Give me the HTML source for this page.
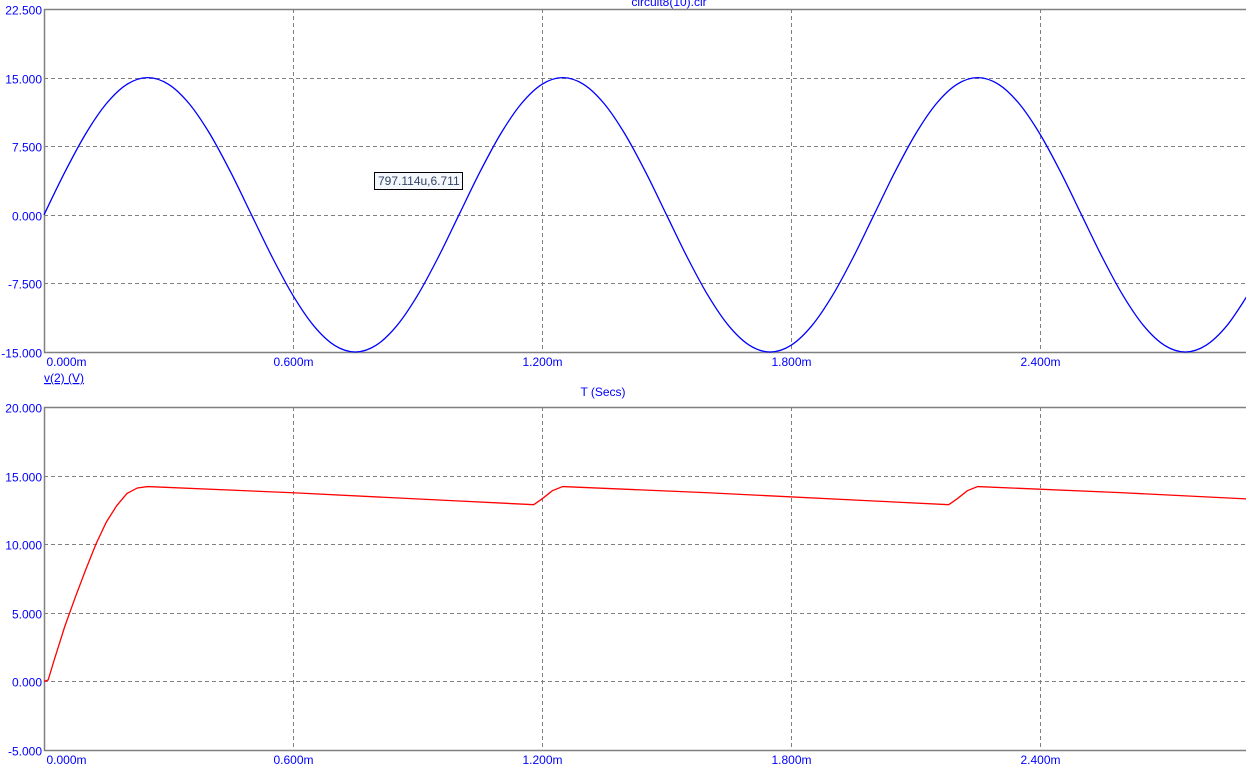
<!DOCTYPE html>
<html><head><meta charset="utf-8"><style>
body{margin:0;background:#fff;width:1246px;height:768px;overflow:hidden}
svg{display:block;font-family:"Liberation Sans",sans-serif}
</style></head><body>
<svg id="c" width="1246" height="768">
<text x="669" y="6" font-size="12" fill="#0000ff" text-anchor="middle">circuit8(10).cir</text>
<text x="44" y="382" font-size="12" fill="#0000ff" text-decoration="underline">v(2) (V)</text>
<text x="603" y="396" font-size="12" fill="#0000ff" text-anchor="middle">T (Secs)</text>
<g id="tip">
<rect x="374.5" y="172.5" width="88" height="17" fill="#f4f8fc" stroke="#000"/>
<text x="378" y="185" font-size="12" fill="#334466">797.114u,6.711</text>
</g>
</svg>
<script>
const xTicks=[0,0.6,1.2,1.8,2.4];
const xTickLabels=["0.000m","0.600m","1.200m","1.800m","2.400m"];
const topYTicks=[22.5,15,7.5,0,-7.5,-15];
const topYLabels=["22.500","15.000","7.500","0.000","-7.500","-15.000"];
const botYTicks=[20,15,10,5,0,-5];
const botYLabels=["20.000","15.000","10.000","5.000","0.000","-5.000"];
const sineT=[0,0.05,0.1,0.15,0.2,0.25,0.3,0.35,0.4,0.45,0.5,0.55,0.6,0.65,0.7,0.75,0.8,0.85,0.9,0.95,1.0,1.05,1.1,1.15,1.2,1.25,1.3,1.35,1.4,1.45,1.5,1.55,1.6,1.65,1.7,1.75,1.8,1.85,1.9,1.95,2.0,2.05,2.1,2.15,2.2,2.25,2.3,2.35,2.4,2.45,2.5,2.55,2.6,2.65,2.7,2.75,2.8,2.85,2.9];
const sineV=[0,4.64,8.82,12.14,14.27,15,14.27,12.14,8.82,4.64,0,-4.64,-8.82,-12.14,-14.27,-15,-14.27,-12.14,-8.82,-4.64,0,4.64,8.82,12.14,14.27,15,14.27,12.14,8.82,4.64,0,-4.64,-8.82,-12.14,-14.27,-15,-14.27,-12.14,-8.82,-4.64,0,4.64,8.82,12.14,14.27,15,14.27,12.14,8.82,4.64,0,-4.64,-8.82,-12.14,-14.27,-15,-14.27,-12.14,-8.82];
const outT=[0,0.01,0.025,0.05,0.075,0.1,0.125,0.15,0.175,0.2,0.225,0.25,0.6,1.0,1.18,1.2,1.225,1.25,1.6,2.0,2.18,2.2,2.225,2.25,2.6,2.9];
const outV=[0,0.1,1.6,4.0,6.1,8.1,10.0,11.6,12.8,13.7,14.1,14.2,13.75,13.15,12.88,13.3,13.9,14.2,13.75,13.15,12.88,13.3,13.9,14.2,13.75,13.3];
const NS='http://www.w3.org/2000/svg';
const svg=document.getElementById('c');
const X0=44,PXMS=249/0.6;
const xs=t=>X0+t*PXMS;
const plots=[
 {top:9,bot:352,ymin:-15,ymax:22.5,ticks:topYTicks,labels:topYLabels,name:'top'},
 {top:407,bot:750,ymin:-5,ymax:20,ticks:botYTicks,labels:botYLabels,name:'bottom'}];
function el(tag,attrs){const e=document.createElementNS(NS,tag);for(const k in attrs)e.setAttribute(k,attrs[k]);svg.insertBefore(e,document.getElementById('tip'));return e;}
plots.forEach(p=>{
 p.ys=v=>p.bot-(v-p.ymin)/(p.ymax-p.ymin)*(p.bot-p.top);
 p.ticks.forEach((v,i)=>{
  const y=Math.round(p.ys(v))+0.5;
  if(i>0&&i<p.ticks.length-1){const g=el('line',{x1:X0,x2:1246,y1:y,y2:y,stroke:'#808080','stroke-dasharray':'4,3'});
   
   }
  const t=el('text',{x:42,y:y+5,'font-size':12,fill:'#0000ff','text-anchor':'end'});
  t.textContent=p.labels[i];
  
  
 });
 xTicks.forEach((v,i)=>{
  const x=Math.round(xs(v))+0.5;
  if(i>0){const g=el('line',{x1:x,x2:x,y1:p.top,y2:p.bot,stroke:'#808080','stroke-dasharray':'4,3'});
   
   }
  const t=el('text',{x:i==0?x+2:x,y:p.bot+14,'font-size':12,fill:'#0000ff','text-anchor':i==0?'start':'middle'});
  t.textContent=xTickLabels[i];
  
  
 });
 const f=el('path',{d:`M1246 ${p.top+0.5}H${X0+0.5}V${p.bot+0.5}H1246`,fill:'none',stroke:'#808080','stroke-width':1.5});
 
 
});
// smooth sine via Catmull-Rom
const P=sineT.map((t,i)=>[xs(t),plots[0].ys(sineV[i])]);
let d=`M${P[0][0]},${P[0][1]}`;
for(let i=0;i<P.length-1;i++){const p0=P[Math.max(0,i-1)],p1=P[i],p2=P[i+1],p3=P[Math.min(P.length-1,i+2)];
 d+=`C${p1[0]+(p2[0]-p0[0])/6},${p1[1]+(p2[1]-p0[1])/6} ${p2[0]-(p3[0]-p1[0])/6},${p2[1]-(p3[1]-p1[1])/6} ${p2[0]},${p2[1]}`;}
const s=el('path',{d,fill:'none',stroke:'#0000ff','stroke-width':1.3});


const o=el('polyline',{points:outT.map((t,i)=>xs(t)+','+plots[1].ys(outV[i])).join(' '),fill:'none',stroke:'#ff0000','stroke-width':1.3});


</script>
</body></html>
